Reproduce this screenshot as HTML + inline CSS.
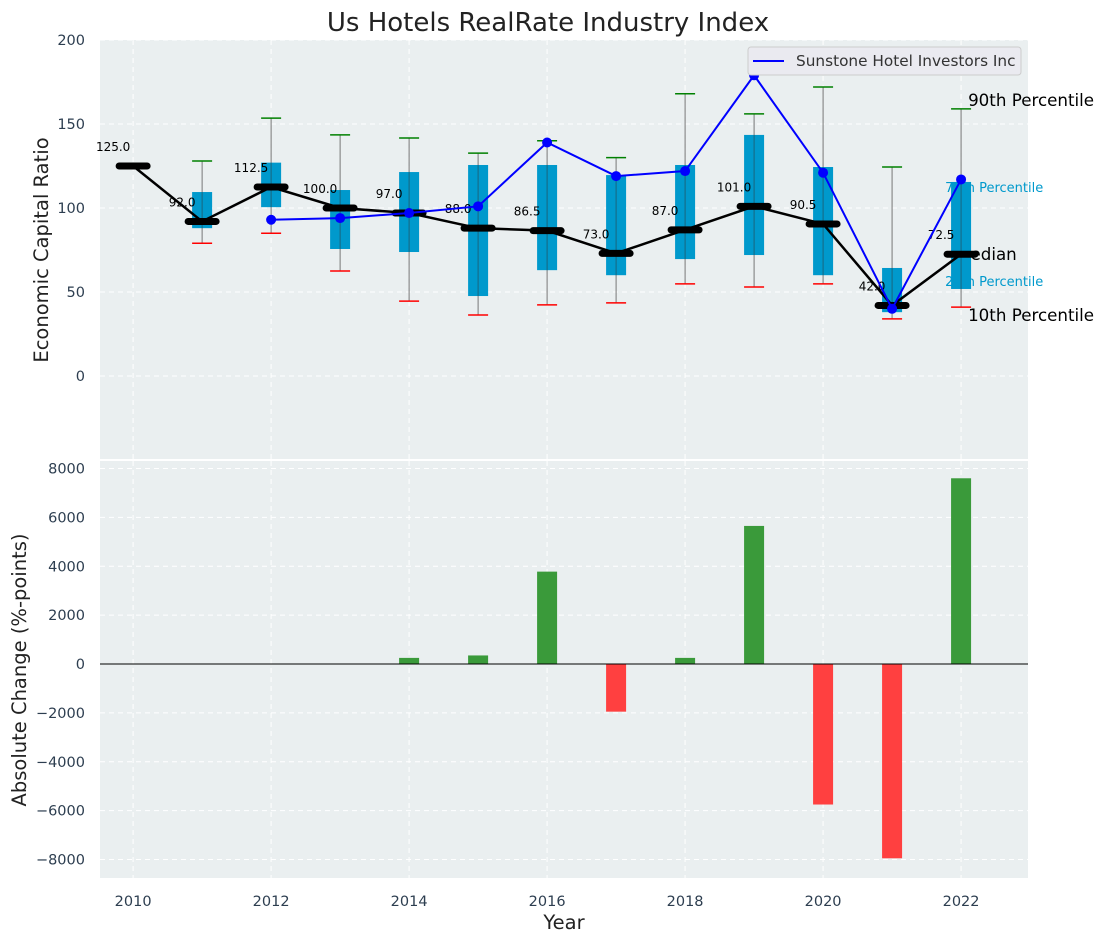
<!DOCTYPE html>
<html><head><meta charset="utf-8">
<style>
body{margin:0;background:#fff;}
svg{display:block;font-family:"DejaVu Sans","Liberation Sans",sans-serif;}
</style></head>
<body>
<svg id="chart" width="1103" height="942" viewBox="0 0 1103 942" xmlns="http://www.w3.org/2000/svg">
<text x="548" y="31" text-anchor="middle" font-size="26" fill="#222">Us Hotels RealRate Industry Index</text>
<rect x="100" y="40" width="928" height="419" fill="#eaeff0"/>
<rect x="100" y="461" width="928" height="417" fill="#eaeff0"/>
<g id="grid"></g>
<g id="top"></g>
<g id="bottom"></g>
<g id="axes"></g>
<text x="48" y="250" transform="rotate(-90 48 250)" text-anchor="middle" font-size="19.5" fill="#222">Economic Capital Ratio</text>
<text x="26" y="670" transform="rotate(-90 26 670)" text-anchor="middle" font-size="19.5" fill="#222">Absolute Change (%-points)</text>
<text x="564" y="929" text-anchor="middle" font-size="19.5" fill="#222">Year</text>
<g>
<rect x="748" y="47" width="273" height="28" rx="3" fill="#eaeaf0" stroke="#ccc"/>
<line x1="753" y1="61" x2="784" y2="61" stroke="#0000ff" stroke-width="2"/>
<text x="796" y="66" font-size="15.3" fill="#333">Sunstone Hotel Investors Inc</text>
</g>
</svg>
<script>
const years=[2010,2011,2012,2013,2014,2015,2016,2017,2018,2019,2020,2021,2022];
const medians=[125,92,112.5,100,97,88,86.5,73,87,101,90.5,42,72.5];
const q1=[null,88,100.5,75.6,73.8,47.6,63,60,69.6,72,60,38,51.8];
const q3=[null,109.5,127,110.7,121.4,125.6,125.6,119.6,125.6,143.5,124.4,64.3,115.5];
const p10=[null,79,85,62.5,44.6,36.3,42.3,43.5,54.8,53,54.8,34,41];
const p90=[null,128,153.5,143.5,141.7,132.7,140,130,168,156,172,124.4,159];
const companyYears=[2012,2013,2014,2015,2016,2017,2018,2019,2020,2021,2022];
const companyValues=[93,94,97,101,139,119,122,179,121,40,117];
const changeYears=[2011,2012,2013,2014,2015,2016,2017,2018,2019,2020,2021,2022];
const changeValues=[0,0,20,250,350,3780,-1950,250,5650,-5750,-7950,7600];
const xTicks=[2010,2012,2014,2016,2018,2020,2022];
const topTicks=[0,50,100,150,200];
const botTicks=[-8000,-6000,-4000,-2000,0,2000,4000,6000,8000];

const NS="http://www.w3.org/2000/svg";
const X=v=>100+(v-2009.52)/(2022.97-2009.52)*928;
const YT=v=>376-(v)*1.68;
const YB=v=>664-v*(195.5/8000);
function mk(parent,tag,attrs,text){const e=document.createElementNS(NS,tag);for(const k in attrs)e.setAttribute(k,attrs[k]);if(text!==undefined)e.textContent=text;document.getElementById(parent).appendChild(e);return e;}

xTicks.forEach(t=>{
 let g=mk('grid','line',{x1:X(t),x2:X(t),y1:40,y2:459,stroke:'#fff','stroke-dasharray':'5,4','stroke-width':1});
 
 g=mk('grid','line',{x1:X(t),x2:X(t),y1:461,y2:878,stroke:'#fff','stroke-dasharray':'5,4','stroke-width':1});
 
 const l=mk('axes','text',{x:X(t),y:906,'text-anchor':'middle','font-size':14.5,fill:'#2d3e50'},t);
 
});
topTicks.forEach(t=>{
 const g=mk('grid','line',{x1:100,x2:1028,y1:YT(t),y2:YT(t),stroke:'#fff','stroke-dasharray':'5,4'});
 
 const l=mk('axes','text',{x:85,y:YT(t)+5,'text-anchor':'end','font-size':14.5,fill:'#2d3e50'},t);
 
});
botTicks.forEach(t=>{
 const g=mk('grid','line',{x1:100,x2:1028,y1:YB(t),y2:YB(t),stroke:'#fff','stroke-dasharray':'5,4'});
 
 const l=mk('axes','text',{x:85,y:YB(t)+5,'text-anchor':'end','font-size':14.5,fill:'#2d3e50'},t<0?'\u2212'+(-t):t);
 
});

const lx=X(2022);
[['90th Percentile',p90,'#000',16.7,7,-3],['75th Percentile',q3,'#0099cc',13,-16,10],['Median',medians,'#000',16.7,-5,6],['25th Percentile',q1,'#0099cc',13,-16,-3],['10th Percentile',p10,'#000',16.7,7,14]].forEach(a=>{
 const v=a[1][a[1].length-1];
 const t=mk('top','text',{x:lx+a[4],y:YT(v)+a[5],'font-size':a[3],fill:a[2]},a[0]);
 
});

years.forEach((yr,i)=>{
 if(q1[i]===null)return;
 const x=X(yr);
 let e=mk('top','line',{x1:x,x2:x,y1:YT(p90[i]),y2:YT(p10[i]),stroke:'#777','stroke-width':1});
 
 e=mk('top','rect',{x:x-10,y:YT(q3[i]),width:20,height:YT(q1[i])-YT(q3[i]),fill:'#0099cc'});
 
 e=mk('top','line',{x1:x,x2:x,y1:YT(q3[i]),y2:YT(q1[i]),stroke:'#333','stroke-width':1,opacity:0.5});
 
 e=mk('top','line',{x1:x-10,x2:x+10,y1:YT(p90[i]),y2:YT(p90[i]),stroke:'green','stroke-width':1.5});
 
 e=mk('top','line',{x1:x-10,x2:x+10,y1:YT(p10[i]),y2:YT(p10[i]),stroke:'red','stroke-width':1.5});
 
});
let pm=mk('top','polyline',{points:years.map((y,i)=>X(y)+','+YT(medians[i])).join(' '),fill:'none',stroke:'#000','stroke-width':2.5});

years.forEach((yr,i)=>{
 const x=X(yr),y=YT(medians[i]);
 let e=mk('top','line',{x1:x-14,x2:x+14,y1:y,y2:y,stroke:'#000','stroke-width':7,'stroke-linecap':'round'});
 
 e=mk('top','text',{x:x-20,y:y-15,'text-anchor':'middle','font-size':12,fill:'#000'},medians[i].toFixed(1));
 
});
let pc=mk('top','polyline',{points:companyYears.map((y,i)=>X(y)+','+YT(companyValues[i])).join(' '),fill:'none',stroke:'#0000ff','stroke-width':2});

companyYears.forEach((yr,i)=>{
 const e=mk('top','circle',{cx:X(yr),cy:YT(companyValues[i]),r:5,fill:'#0000ff'});
 
});

changeYears.forEach((yr,i)=>{
 const v=changeValues[i];if(v===0)return;
 const y0=YB(0),y1=YB(v);
 const e=mk('bottom','rect',{x:X(yr)-10,y:Math.min(y0,y1),width:20,height:Math.abs(y1-y0),fill:v>0?'#3a9a3a':'#ff4040'});
 
});
let z=mk('bottom','line',{x1:100,x2:1028,y1:YB(0),y2:YB(0),stroke:'#000','stroke-width':1});

</script>
</body></html>
